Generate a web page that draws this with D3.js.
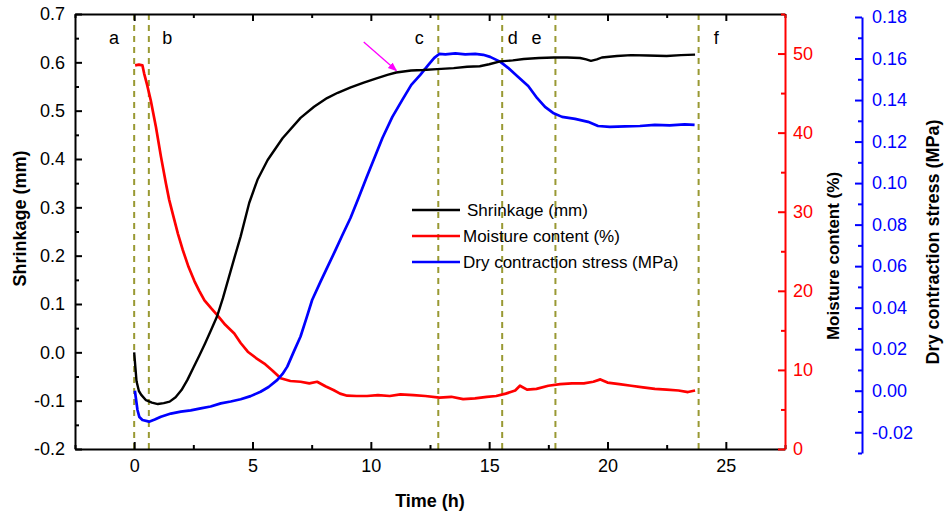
<!DOCTYPE html>
<html><head><meta charset="utf-8">
<script src="https://cdn.jsdelivr.net/npm/d3@7/dist/d3.min.js"></script>
<style>
body{margin:0;background:#fff}
svg{display:block;font-family:"Liberation Sans",Arial,sans-serif}
</style>
</head><body>
<svg id="chart" width="945" height="518"></svg>
<script>
// ---------------- data ----------------
const shrinkTime = [0,0.05,0.1,0.2,0.3,0.5,0.75,1.0,1.25,1.5,1.75,2.0,2.25,2.5,2.75,3.0,3.25,3.5,3.75,4.0,4.25,4.5,4.86,5.21,5.64,6.27,7.03,7.6,8.15,8.6,9.15,9.7,10.24,10.7,11.07,11.7,12.2,12.8,13.5,14.07,14.6,15.0,15.47,16.0,16.46,17.1,17.74,18.3,18.84,19.1,19.3,19.55,19.76,20.4,21.0,21.7,22.5,23.1,23.7];
const shrinkValues = [0,-0.03,-0.06,-0.08,-0.088,-0.099,-0.104,-0.107,-0.105,-0.102,-0.093,-0.078,-0.057,-0.032,-0.007,0.019,0.046,0.074,0.112,0.155,0.198,0.24,0.309,0.357,0.398,0.443,0.485,0.508,0.526,0.537,0.548,0.558,0.567,0.574,0.579,0.583,0.584,0.586,0.588,0.591,0.592,0.596,0.602,0.604,0.607,0.609,0.610,0.610,0.609,0.606,0.603,0.606,0.610,0.613,0.615,0.614,0.613,0.615,0.616];

const moistureTime = [0.04,0.2,0.35,0.42,0.55,0.7,0.92,1.13,1.34,1.48,1.65,1.85,2.05,2.3,2.55,2.75,2.97,3.25,3.52,3.85,4.23,4.5,4.8,5.15,5.5,5.85,6.19,6.6,7.03,7.4,7.73,8.1,8.42,8.7,9.0,9.4,9.84,10.3,10.8,11.25,11.8,12.3,12.9,13.4,13.9,14.4,14.9,15.3,15.7,16.1,16.3,16.6,17.0,17.5,18.0,18.5,19.0,19.4,19.7,20.0,20.5,21.0,21.5,22.0,22.5,23.0,23.4,23.7];
const moistureValues = [48.5,48.6,48.5,47.5,46.0,44.1,40.7,37.0,33.6,31.5,29.5,27.2,25.2,23.0,21.2,20.0,18.8,17.8,16.9,15.7,14.6,13.4,12.3,11.5,10.8,9.9,8.94,8.6,8.5,8.3,8.5,7.9,7.46,7.0,6.74,6.7,6.7,6.8,6.7,6.9,6.8,6.7,6.5,6.6,6.3,6.4,6.6,6.7,7.0,7.4,8.0,7.5,7.6,8.0,8.2,8.3,8.3,8.5,8.8,8.4,8.2,8.0,7.8,7.6,7.5,7.4,7.2,7.4];

const stressTime = [0.03,0.14,0.22,0.35,0.63,0.87,1.13,1.55,1.97,2.39,2.81,3.23,3.66,4.08,4.5,4.92,5.34,5.68,6.05,6.27,6.47,6.74,7.03,7.28,7.52,7.87,8.21,8.51,8.8,9.14,9.48,9.81,10.15,10.49,10.91,11.33,11.71,12.09,12.43,12.68,12.89,13.15,13.57,13.99,14.41,14.75,15.04,15.46,15.8,16.18,16.65,17.03,17.36,17.7,18.08,18.63,19.18,19.6,20.1,20.74,21.37,22.0,22.63,23.26,23.68];
const stressValues = [0.000,-0.0093,-0.0127,-0.0141,-0.0149,-0.0139,-0.0125,-0.011,-0.0101,-0.0095,-0.0085,-0.0076,-0.0061,-0.0052,-0.0041,-0.0026,-0.0005,0.0018,0.0052,0.0081,0.0116,0.0187,0.0261,0.0350,0.0437,0.0524,0.0606,0.0678,0.0750,0.0832,0.0928,0.1025,0.1121,0.1217,0.1319,0.1401,0.1473,0.1521,0.1569,0.1603,0.1622,0.1620,0.1625,0.1620,0.1622,0.1618,0.1608,0.1585,0.1555,0.1516,0.1468,0.1409,0.1367,0.1338,0.1319,0.1309,0.1295,0.1275,0.1271,0.1273,0.1275,0.1280,0.1278,0.1283,0.1280];

const timeTicks = [0,5,10,15,20,25];
const timeMinorTicks = [-2.5,2.5,7.5,12.5,17.5,22.5,27.5];
const shrinkTicks = [-0.2,-0.1,0,0.1,0.2,0.3,0.4,0.5,0.6,0.7];
const shrinkMinorTicks = [-0.15,-0.05,0.05,0.15,0.25,0.35,0.45,0.55,0.65];
const moistureTicks = [0,10,20,30,40,50];
const moistureMinorTicks = [5,15,25,35,45,55];
const stressTicks = [-0.02,0,0.02,0.04,0.06,0.08,0.10,0.12,0.14,0.16,0.18];
const stressMinorTicks = [-0.03,-0.01,0.01,0.03,0.05,0.07,0.09,0.11,0.13,0.15,0.17];

const phaseTimes = [0,0.62,12.85,15.55,17.8,23.85];
const phaseLabels = ["a","b","c","d","e","f"];
const phaseLabelTimes = [-0.85,1.4,12.05,16.0,17.0,24.6];
const arrowFrom = [9.7,0.642];
const arrowTo = [11.08,0.583];

const seriesNames = ["Shrinkage (mm)","Moisture content (%)","Dry contraction stress (MPa)"];
const seriesColors = ["#000000","#ff0000","#0000ff"];

// ---------------- layout ----------------
const L = 75, R = 785, T = 14, B = 449, BLUEX = 862;
const svg = d3.select("#chart");

const x = d3.scaleLinear().domain([-2.5,27.5]).range([L,R]);
const yS = d3.scaleLinear().domain([-0.2,0.7]).range([B,T]);
const yM = d3.scaleLinear().domain([0,55]).range([B,T]);
const yB = d3.scaleLinear().domain([-0.03,0.18]).range([453,17]);

svg.append("defs").append("clipPath").attr("id","clip")
  .append("rect").attr("x",L).attr("y",T).attr("width",R-L).attr("height",B-T);

const olive = "#999933";

// phase dashed lines
svg.append("g").selectAll("line").data(phaseTimes).join("line")
  .attr("x1",d=>x(d)).attr("x2",d=>x(d)).attr("y1",T).attr("y2",B)
  .attr("stroke",olive).attr("stroke-width",2).attr("stroke-dasharray","6,5");

// curves
const plot = svg.append("g").attr("clip-path","url(#clip)");
function drawLine(ts, vs, ys, color, w){
  const pts = ts.map((t,i)=>[t,vs[i]]);
  plot.append("path").datum(pts)
    .attr("fill","none").attr("stroke",color).attr("stroke-width",w)
    .attr("stroke-linejoin","round")
    .attr("d", d3.line().x(d=>x(d[0])).y(d=>ys(d[1])));
}
drawLine(moistureTime, moistureValues, yM, seriesColors[1], 2.7);
drawLine(stressTime, stressValues, yB, seriesColors[2], 2.7);
drawLine(shrinkTime, shrinkValues, yS, seriesColors[0], 2.4);

// axes
const tickFont = 18;
function styleAxis(g, color){
  g.selectAll(".domain").attr("stroke",color).attr("stroke-width",2);
  g.selectAll(".tick line").attr("stroke",color).attr("stroke-width",2);
  g.selectAll(".tick text").attr("fill",color).style("font-size",tickFont+"px");
}
// bottom
let g = svg.append("g").attr("transform",`translate(0,${B})`)
  .call(d3.axisBottom(x).tickValues(timeTicks).tickSize(-7).tickSizeOuter(0).tickPadding(10).tickFormat(d=>d));
styleAxis(g,"#000");
g = svg.append("g").attr("transform",`translate(0,${B})`)
  .call(d3.axisBottom(x).tickValues(timeMinorTicks).tickSize(-4).tickSizeOuter(0).tickFormat(""));
styleAxis(g,"#000"); g.select(".domain").remove();
// top
g = svg.append("g").attr("transform",`translate(0,${T})`)
  .call(d3.axisTop(x).tickValues(timeTicks).tickSize(-7).tickSizeOuter(0).tickFormat(""));
styleAxis(g,"#000");
g = svg.append("g").attr("transform",`translate(0,${T})`)
  .call(d3.axisTop(x).tickValues(timeMinorTicks).tickSize(-4).tickSizeOuter(0).tickFormat(""));
styleAxis(g,"#000"); g.select(".domain").remove();
// left
g = svg.append("g").attr("transform",`translate(${L},0)`)
  .call(d3.axisLeft(yS).tickValues(shrinkTicks).tickSize(-7).tickSizeOuter(0).tickPadding(10).tickFormat(d=>d.toFixed(1)));
styleAxis(g,"#000");
g = svg.append("g").attr("transform",`translate(${L},0)`)
  .call(d3.axisLeft(yS).tickValues(shrinkMinorTicks).tickSize(-4).tickSizeOuter(0).tickFormat(""));
styleAxis(g,"#000"); g.select(".domain").remove();
// right red
g = svg.append("g").attr("transform",`translate(${R},0)`)
  .call(d3.axisRight(yM).tickValues(moistureTicks).tickSize(-7).tickSizeOuter(0).tickPadding(8).tickFormat(d=>d));
styleAxis(g,"#ff0000");
g = svg.append("g").attr("transform",`translate(${R},0)`)
  .call(d3.axisRight(yM).tickValues(moistureMinorTicks).tickSize(-4).tickSizeOuter(0).tickFormat(""));
styleAxis(g,"#ff0000"); g.select(".domain").remove();
// blue offset axis
g = svg.append("g").attr("transform",`translate(${BLUEX},0)`)
  .call(d3.axisRight(yB).tickValues(stressTicks).tickSize(-7).tickSizeOuter(0).tickPadding(10).tickFormat(d=>d.toFixed(2)));
styleAxis(g,"#0000ff");
g = svg.append("g").attr("transform",`translate(${BLUEX},0)`)
  .call(d3.axisRight(yB).tickValues(stressMinorTicks).tickSize(-4).tickSizeOuter(0).tickFormat(""));
styleAxis(g,"#0000ff"); g.select(".domain").remove();

// axis titles
svg.append("text").attr("transform",`translate(26,${(T+B)/2-13}) rotate(-90)`)
  .attr("text-anchor","middle").style("font-size","18px").style("font-weight","bold").text("Shrinkage (mm)");
svg.append("text").attr("x",(L+R)/2).attr("y",507)
  .attr("text-anchor","middle").style("font-size","18px").style("font-weight","bold").text("Time (h)");
svg.append("text").attr("transform",`translate(839,256) rotate(-90)`)
  .attr("text-anchor","middle").style("font-size","17px").style("font-weight","bold").text("Moisture content (%)");
svg.append("text").attr("transform",`translate(939,242) rotate(-90)`)
  .attr("text-anchor","middle").style("font-size","18px").style("font-weight","bold").text("Dry contraction stress (MPa)");

// phase labels
svg.append("g").selectAll("text").data(phaseLabels).join("text")
  .attr("x",(d,i)=>x(phaseLabelTimes[i])).attr("y",44)
  .attr("text-anchor","middle").style("font-size","18px").text(d=>d);

// arrow
svg.append("defs").append("marker").attr("id","ah").attr("viewBox","0 0 10 10")
  .attr("refX",9).attr("refY",5).attr("markerWidth",7).attr("markerHeight",7)
  .attr("orient","auto").append("path").attr("d","M0,1 L10,5 L0,9 Z").attr("fill","#ff00ff");
svg.append("line").attr("x1",x(arrowFrom[0])).attr("y1",yS(arrowFrom[1]))
  .attr("x2",x(arrowTo[0])).attr("y2",yS(arrowTo[1]))
  .attr("stroke","#ff00ff").attr("stroke-width",1.3).attr("marker-end","url(#ah)");

// legend
const lg = svg.append("g").attr("transform","translate(412,210)");
seriesNames.forEach((n,i)=>{
  const row = lg.append("g").attr("transform",`translate(0,${i*26})`);
  row.append("line").attr("x1",0).attr("x2",48).attr("y1",0).attr("y2",0)
    .attr("stroke",seriesColors[i]).attr("stroke-width",2.5);
  row.append("text").attr("x",i===0?55:51).attr("y",6).style("font-size","17px").text(n);
});
</script>
</body></html>
